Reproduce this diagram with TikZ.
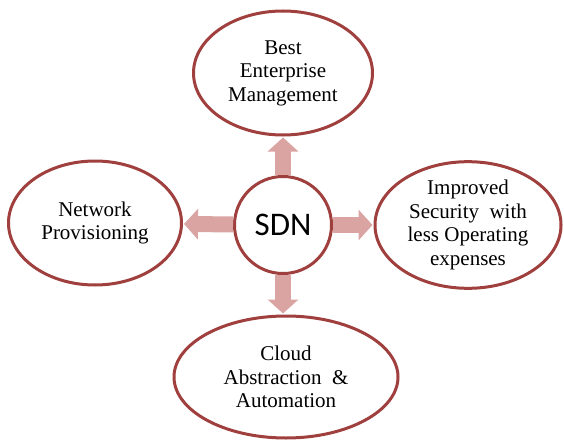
\documentclass[tikz,border=0pt]{standalone}
\usepackage{fontspec}
\setmainfont{Liberation Serif}
\newfontfamily\sdnfont{Carlito}
\usetikzlibrary{shapes.geometric, arrows.meta}
\definecolor{rimred}{RGB}{160,64,62}
\definecolor{arrpink}{RGB}{218,164,163}
\tikzstyle{goal}=[ellipse, draw=rimred, line width=3pt, fill=white, align=center, inner sep=0pt, font=\fontsize{21}{23.5}\selectfont]
\tikzstyle{hub}=[circle, draw=rimred, line width=3pt, fill=white, minimum size=97pt, inner sep=0pt, font=\sdnfont\fontsize{33}{36}\selectfont]
\tikzstyle{push}=[draw=arrpink, line width=16pt, -{Triangle[length=14pt, width=30pt]}, shorten >=1pt]

\begin{document}
\begin{tikzpicture}[x=1pt, y=-1pt]
		\useasboundingbox (0,0) rectangle (564,441);
		\node[hub] (sdn) at (283,225) {SDN};
		\node[goal, minimum width=179pt, minimum height=124pt] (best) at (283,73) {Best\\Enterprise\\Management};
		\node[goal, minimum width=173pt, minimum height=124pt] (net) at (95,223) {Network\\Provisioning};
		\node[goal, minimum width=186pt, minimum height=121pt] (sec) at (468,225) {Improved\\Security\ \ with\\less Operating\\expenses};
		\node[goal, minimum width=224pt, minimum height=122pt] (cloud) at (286,377) {Cloud\\Abstraction\ \ \&\\Automation};
		\draw[push] (sdn) -- (best);
		\draw[push] (sdn) -- (net);
		\draw[push] (sdn) -- (sec);
		\draw[push] (sdn.south) -- (sdn.south |- cloud.north);
	\end{tikzpicture}
\end{document}
